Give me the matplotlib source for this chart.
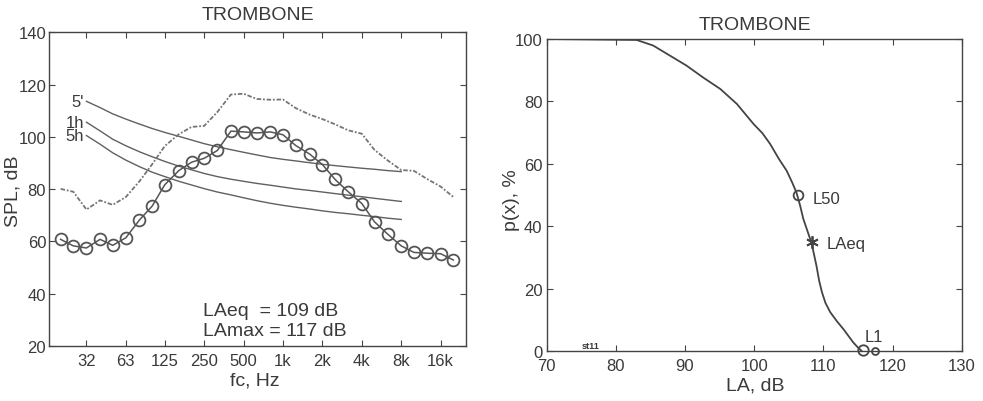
import matplotlib
matplotlib.use("Agg")
import matplotlib.pyplot as plt

plt.rcParams['font.family'] = ['Liberation Sans', 'DejaVu Sans']

# ---------------- data: left panel (third-octave spectrum) ----------------
band_freqs = [20, 25, 31.5, 40, 50, 63, 80, 100, 125, 160, 200, 250, 315, 400,
              500, 630, 800, 1000, 1250, 1600, 2000, 2500, 3150, 4000, 5000,
              6300, 8000, 10000, 12500, 16000, 20000]
spl_leq = [60.8, 58.3, 57.5, 60.8, 58.5, 61.4, 68.2, 73.5, 81.7, 87.1, 90.3,
           91.8, 94.8, 102.2, 101.9, 101.5, 101.9, 100.8, 96.7, 93.4, 89.4,
           83.7, 79.0, 74.5, 67.5, 62.8, 58.3, 55.8, 55.5, 55.3, 52.9]
spl_max = [80.1, 79.0, 72.2, 75.7, 74.0, 77.0, 83.0, 89.5, 96.5, 101.0, 103.8,
           104.2, 109.5, 116.2, 116.5, 114.5, 114.2, 114.3, 111.0, 108.5, 106.8,
           104.8, 102.5, 101.2, 95.0, 91.0, 87.3, 87.0, 84.0, 81.0, 77.0]

limit_freqs = [31.5, 40, 50, 63, 80, 100, 125, 160, 200, 250, 315, 400, 500,
               630, 800, 1000, 1250, 1600, 2000, 2500, 3150, 4000, 5000, 6300, 8000]
limit_5min = [113.6, 111.2, 108.8, 106.8, 104.9, 103.2, 101.7, 100.2, 98.8, 97.4,
              96.2, 95.1, 94.1, 93.1, 92.1, 91.4, 90.8, 90.1, 89.5, 89.0, 88.5,
              88.0, 87.6, 87.1, 86.7]
limit_1h = [105.6, 102.3, 99.1, 96.6, 94.3, 92.4, 90.6, 88.8, 87.4, 86.0, 84.8,
            83.8, 83.0, 82.2, 81.5, 80.8, 80.1, 79.5, 78.9, 78.3, 77.7, 77.1,
            76.5, 75.9, 75.3]
limit_5h = [100.5, 97.2, 93.9, 91.1, 88.6, 86.5, 84.8, 83.0, 81.6, 80.2, 78.9,
            77.8, 76.7, 75.6, 74.6, 73.8, 73.1, 72.4, 71.7, 71.1, 70.6, 70.0,
            69.5, 68.9, 68.4]
limit_labels = ["5'", "1h", "5h"]

x_tick_freqs = [31.5, 63, 125, 250, 500, 1000, 2000, 4000, 8000, 16000]
x_tick_labels = ['32', '63', '125', '250', '500', '1k', '2k', '4k', '8k', '16k']
y_ticks_left = [20, 40, 60, 80, 100, 120, 140]

# ---------------- data: right panel (level distribution) ----------------
la_levels = [70, 83.0, 85.4, 87.8, 90.2, 92.6, 95.1, 97.5, 99.9, 101.2, 102.3,
             103.6, 104.7, 105.5, 106.1, 106.6, 107.1, 107.7, 108.3, 109.0,
             109.4, 109.8, 110.3, 111.0, 112.0, 112.9, 113.6, 114.3, 115.0, 115.5]
p_exceed = [100, 99.7, 97.9, 94.7, 91.5, 87.7, 84.0, 79.2, 72.8, 69.8, 66.4,
            61.5, 57.8, 54.0, 50.9, 47.0, 42.4, 38.5, 34.6, 27.4,
            22.5, 18.9, 15.5, 12.5, 9.5, 7.1, 5.0, 2.9, 1.2, 0.2]
l50 = (106.4, 50)
laeq_pt = (108.4, 35)
l1 = (115.7, 0.5)
lamax_pt = (117.4, 0)

x_ticks_right = [70, 80, 90, 100, 110, 120, 130]
y_ticks_right = [0, 20, 40, 60, 80, 100]

TXT = '#3a3a3a'
LINE = '#555555'

W, H = 983, 402
fig = plt.figure(figsize=(W / 100, H / 100), dpi=100)


def frac(x0, y0, x1, y1):
    return [x0 / W, 1 - y1 / H, (x1 - x0) / W, (y1 - y0) / H]


# ---------------- left panel ----------------
ax1 = fig.add_axes(frac(49, 33.3, 466, 347))
ax1.set_xscale('log', base=2)
for vals, lab in zip([limit_5min, limit_1h, limit_5h], limit_labels):
    ax1.plot(limit_freqs, vals, color='#606060', lw=1.0)
    ax1.text(limit_freqs[0] * 0.96, vals[0], lab, ha='right', va='center',
             fontsize=12, color=TXT)
ax1.plot(band_freqs, spl_max, color='#757575', lw=1.3,
         linestyle=(0, (2.5, 1.0, 1, 1.0)))
ax1.plot(band_freqs, spl_leq, color=LINE, lw=1.1, marker='o', markersize=8.5,
         markerfacecolor='none', markeredgecolor='#555555', markeredgewidth=1.3)
ax1.set_xlim(16.3, 25000)
ax1.set_ylim(20, 140)
ax1.set_xticks(x_tick_freqs)
ax1.set_xticklabels(x_tick_labels)
ax1.minorticks_off()
ax1.set_yticks(y_ticks_left)
ax1.tick_params(direction='in', top=True, right=True, length=4, width=0.8,
                colors='#444444', labelcolor=TXT, labelsize=12)
ax1.tick_params(axis='x', pad=5)
ax1.tick_params(axis='y', pad=2)
ax1.text(246, 33.6, 'LAeq  = 109 dB', fontsize=14, color=TXT, va='center')
ax1.text(246, 26.0, 'LAmax = 117 dB', fontsize=14, color=TXT, va='center')
for s in ax1.spines.values():
    s.set_color('#444444')
    s.set_linewidth(1.0)

# ---------------- right panel ----------------
ax2 = fig.add_axes(frac(546.7, 40, 961.7, 352.3))
ax2.plot(la_levels, p_exceed, color='#444444', lw=1.3)
ax2.plot(*l50, marker='o', markersize=7, markerfacecolor='none',
         markeredgecolor='#444444', markeredgewidth=1.3)
ax2.plot(*laeq_pt, marker=(6, 2, 0), markersize=9, color='#444444',
         markeredgewidth=1.3)
ax2.plot(*l1, marker='o', markersize=7.5, markerfacecolor='none',
         markeredgecolor='#444444', markeredgewidth=1.3, clip_on=False)
ax2.plot(*lamax_pt, marker='o', markersize=5, markerfacecolor='none',
         markeredgecolor='#444444', markeredgewidth=1.3, clip_on=False)
ax2.text(108.5, 48.8, 'L50', fontsize=12, color=TXT, va='center')
ax2.text(110.4, 34.4, 'LAeq', fontsize=12, color=TXT, va='center')
ax2.text(116.0, 4.8, 'L1', fontsize=12, color=TXT, va='center')
ax2.text(75.1, 2.0, 'st11', fontsize=6.5, color=TXT, va='center',
         fontweight='bold')
ax2.set_xlim(70, 130)
ax2.set_ylim(0, 100)
ax2.set_xticks(x_ticks_right)
ax2.set_yticks(y_ticks_right)
ax2.tick_params(direction='in', top=True, right=True, length=4, width=0.8,
                colors='#444444', labelcolor=TXT, labelsize=12)
ax2.tick_params(axis='x', pad=5)
ax2.tick_params(axis='y', pad=3)
for s in ax2.spines.values():
    s.set_color('#444444')
    s.set_linewidth(1.0)

# ---------------- titles and axis labels ----------------
fig.text(257.5 / W, 1 - 15 / H, 'TROMBONE', ha='center', va='center',
         fontsize=14, color=TXT)
fig.text(755 / W, 1 - 25 / H, 'TROMBONE', ha='center', va='center',
         fontsize=14, color=TXT)
fig.text(255 / W, 1 - 381 / H, 'fc, Hz', ha='center', va='center',
         fontsize=14, color=TXT)
fig.text(755 / W, 1 - 386 / H, 'LA, dB', ha='center', va='center',
         fontsize=14, color=TXT)
fig.text(13 / W, 1 - 191 / H, 'SPL, dB', ha='center', va='center',
         fontsize=14, color=TXT, rotation=90)
fig.text(511.7 / W, 1 - 200 / H, 'p(x), %', ha='center', va='center',
         fontsize=14, color=TXT, rotation=90)

fig.savefig('out.png', dpi=100, facecolor='white')
